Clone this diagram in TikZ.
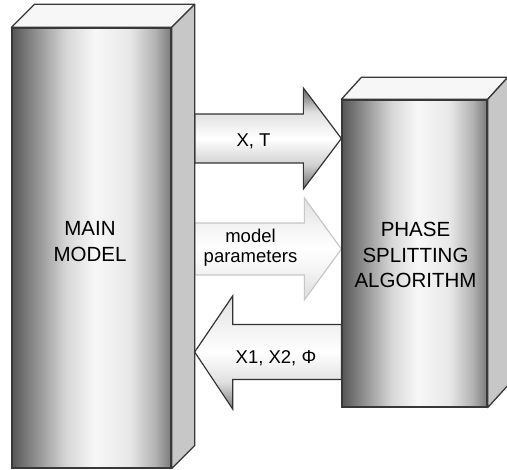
\documentclass[tikz,border=0pt]{standalone}
\usepackage{fontspec}
\setmainfont{Liberation Sans}
\usetikzlibrary{calc}
\pgfdeclarehorizontalshading{cyl}{100bp}{color(0bp)=(black!66); color(25bp)=(black!66); color(32bp)=(black!45); color(42bp)=(black!16); color(51bp)=(black!3); color(62bp)=(black!9); color(70bp)=(black!30); color(75bp)=(black!52); color(100bp)=(black!52)}
\pgfdeclareverticalshading{arrdark}{100bp}{color(0bp)=(black!58); color(25bp)=(black!58); color(37bp)=(black!18); color(50bp)=(white); color(63bp)=(black!12); color(75bp)=(black!62); color(100bp)=(black!62)}
\pgfdeclareverticalshading{arrret}{100bp}{color(0bp)=(black!50); color(25bp)=(black!50); color(37bp)=(black!12); color(50bp)=(white); color(63bp)=(black!6); color(75bp)=(black!12); color(100bp)=(black!12)}
\pgfdeclareverticalshading{arrlight}{100bp}{color(0bp)=(black!14); color(25bp)=(black!14); color(40bp)=(black!4); color(50bp)=(white); color(60bp)=(black!4); color(75bp)=(black!12); color(100bp)=(black!12)}
\begin{document}
\begin{tikzpicture}[x=1bp,y=1bp,
  face/.style={draw=black!78, line width=1.3bp, shade, shading=cyl, inner sep=0pt},
  topface/.style={draw=black!78, line width=1.3bp, fill=black!3, line join=round},
  sideface/.style={draw=black!78, line width=1.3bp, fill=black!22, line join=round},
  arrowdark/.style={draw=black!80, line width=1.2bp, shade, shading=arrdark, line join=miter},
  arrowret/.style={draw=black!80, line width=1.2bp, shade, shading=arrret, line join=miter},
  arrowlight/.style={draw=black!22, line width=1.2bp, shade, shading=arrlight, line join=miter},
  boxlabel/.style={font=\fontsize{20.5bp}{25.5bp}\selectfont, align=center, inner sep=0pt},
  arrlabel/.style={font=\fontsize{18.5bp}{20bp}\selectfont, align=center, inner sep=0pt}
]
\useasboundingbox (0,0) rectangle (507,470);
\fill[white] (0,0) rectangle (507,470);

% box nodes (front faces)
\node[face, minimum width=159bp, minimum height=440bp] (main) at (91.5,222) {};
\node[face, minimum width=145bp, minimum height=307bp] (psa) at (414.5,216.5) {};

% arrow end coordinates
\coordinate (a1tail) at ($(main.east)+(23,109.5)$);
\coordinate (a1tip) at (psa.west |- a1tail);
\coordinate (a2tail) at ($(main.east)+(23,-1)$);
\coordinate (a2tip) at (psa.west |- a2tail);
\coordinate (a3tip) at ($(main.east)+(23,-104)$);
\coordinate (a3tail) at (psa.west |- a3tip);

% arrows
\path[arrowdark] ($(a1tail)+(0,24.5)$) -- ($(a1tip)+(-38,24.5)$) -- ($(a1tip)+(-38,50.5)$) -- (a1tip)
  -- ($(a1tip)+(-38,-50.5)$) -- ($(a1tip)+(-38,-24.5)$) -- ($(a1tail)+(0,-24.5)$) -- cycle;
\path[arrowlight] ($(a2tail)+(0,26)$) -- ($(a2tip)+(-37,26)$) -- ($(a2tip)+(-37,51)$) -- (a2tip)
  -- ($(a2tip)+(-37,-51)$) -- ($(a2tip)+(-37,-26)$) -- ($(a2tail)+(0,-26)$) -- cycle;
\path[arrowret] ($(a3tail)+(0,27.5)$) -- ($(a3tip)+(38,27.5)$) -- ($(a3tip)+(38,56)$) -- (a3tip)
  -- ($(a3tip)+(38,-57)$) -- ($(a3tip)+(38,-27.5)$) -- ($(a3tail)+(0,-27.5)$) -- cycle;

% redraw fronts over arrow ends
\node[face, minimum width=159bp, minimum height=440bp] at (main) {};
\node[face, minimum width=145bp, minimum height=307bp] at (psa) {};

% 3D faces
\draw[topface] (main.north west) -- ++(23,23) -- ($(main.north east)+(23,23)$) -- (main.north east) -- cycle;
\draw[sideface] (main.north east) -- ++(23,23) -- ($(main.south east)+(23,23)$) -- (main.south east) -- cycle;
\draw[topface] (psa.north west) -- ++(20,22) -- ($(psa.north east)+(20,22)$) -- (psa.north east) -- cycle;
\draw[sideface] (psa.north east) -- ++(20,22) -- ($(psa.south east)+(20,22)$) -- (psa.south east) -- cycle;

% labels
\node[boxlabel] (mainlabel) at (90,228.3) {MAIN\\MODEL};
\node[boxlabel] (psalabel) at (415.5,215) {PHASE\\SPLITTING\\ALGORITHM};
\node[arrlabel, anchor=base] (l1) at (253.5,323) {X, T};
\node[arrlabel] (l2) at (250.5,222) {model\\parameters};
\node[arrlabel, anchor=base] (l3) at (276,106) {X1, X2, Φ};
\end{tikzpicture}
\end{document}
